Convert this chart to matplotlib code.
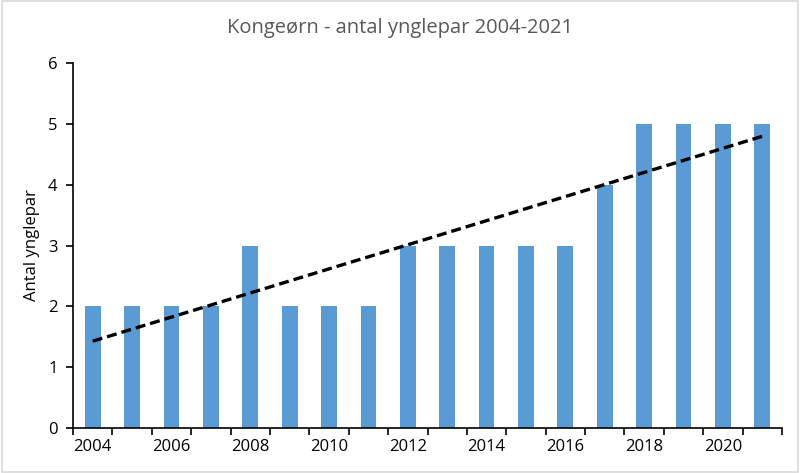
import numpy as np
import matplotlib.pyplot as plt
from matplotlib.patches import Rectangle

# Kongeørn - antal ynglepar
years = np.arange(2004, 2022)
pairs = [2, 2, 2, 2, 3, 2, 2, 2, 3, 3, 3, 3, 3, 4, 5, 5, 5, 5]
tick_years = [2004, 2006, 2008, 2010, 2012, 2014, 2016, 2018, 2020]

plt.rcParams['font.family'] = ['Open Sans', 'DejaVu Sans']

fig = plt.figure(figsize=(8, 4.73), dpi=100)
ax = fig.add_axes([73/800, 45/473, (782-73)/800, (428-63)/473])

ax.bar(years, pairs, width=0.4, color='#5B9BD5', zorder=2)

# linear trend line
k, m = np.polyfit(years, pairs, 1)
ax.plot(years, k*years + m, color='black', linestyle=(0, (3, 1.5)), linewidth=2.4, zorder=3)

ax.set_xlim(2003.5, 2021.5)
ax.set_ylim(0, 6)
ax.set_yticks(range(0, 7))
ax.set_xticks(tick_years)
ax.set_xticks(np.arange(2003.5, 2022.0, 1), minor=True)
ax.tick_params(axis='x', which='major', length=0, pad=8, labelsize=12)
ax.tick_params(axis='x', which='minor', length=5, width=1.2, direction='out')
ax.tick_params(axis='y', length=5, width=1.2, direction='out', labelsize=12, pad=6)

for s in ['top', 'right']:
    ax.spines[s].set_visible(False)
for s in ['left', 'bottom']:
    ax.spines[s].set_linewidth(1.2)

ax.set_ylabel('Antal ynglepar', fontsize=12, labelpad=6)
fig.text(0.5, 0.94, 'Kongeørn - antal ynglepar 2004-2021', ha='center', va='center',
         fontsize=14.5, color='#595959')

fig.patches.append(Rectangle((0.002, 0.003), 0.996, 0.994, transform=fig.transFigure,
                             fill=False, edgecolor='#D9D9D9', linewidth=1.2))

fig.savefig('out.png', dpi=100)
